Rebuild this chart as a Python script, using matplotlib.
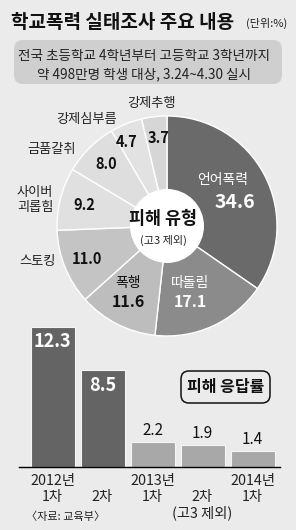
import numpy as np
import matplotlib
matplotlib.use('Agg')
import matplotlib.pyplot as plt
from matplotlib.patches import FancyBboxPatch, Circle

plt.rcParams['font.family'] = ['Noto Sans CJK KR', 'DejaVu Sans']

# pie: 피해 유형
pieNames = ['언어폭력', '따돌림', '폭행', '스토킹', '사이버\n괴롭힘', '금품갈취', '강제심부름', '강제추행']
pieValues = [34.6, 17.1, 11.6, 11.0, 9.2, 8.0, 4.7, 3.7]
pieColors = ['#6a6a6a', '#8b8b8b', '#bdbdbd', '#c4c4c4', '#e0e0e0', '#dedede', '#e2e2e2', '#d6d6d6']

# bars: 피해 응답률
barLabels = ['2012년\n1차', '\n2차', '2013년\n1차', '\n2차\n(고3 제외)', '2014년\n1차']
barValues = [12.3, 8.5, 2.2, 1.9, 1.4]
barColors = ['#646464', '#646464', '#a8a8a8', '#a8a8a8', '#a8a8a8']

W, H = 296, 530
bg = '#ebebeb'
fig = plt.figure(figsize=(W / 100, H / 100), dpi=100, facecolor=bg)

# pixel-coordinate overlay for texts
ax0 = fig.add_axes([0, 0, 1, 1])
ax0.set_xlim(0, W)
ax0.set_ylim(H, 0)
ax0.axis('off')
ax0.set_zorder(3)

ax0.text(11, 22, '학교폭력 실태조사 주요 내용', fontsize=13.7, fontweight='bold', va='center', ha='left', color='#111')
ax0.text(287, 23, '(단위:%)', fontsize=8, va='center', ha='right', color='#222')

box = FancyBboxPatch((14, 40), 268, 44, boxstyle='round,pad=0,rounding_size=9',
                     fc='#cfcfcf', ec='none', transform=ax0.transData, zorder=0)
ax0.add_patch(box)
ax0.text(144, 56, '전국 초등학교 4학년부터 고등학교 3학년까지', fontsize=9.8, ha='center', va='center', color='#222')
ax0.text(144, 74, '약 498만명 학생 대상, 3.24~4.30 실시', fontsize=9.8, ha='center', va='center', color='#222')

# pie
cx, cy, R = 167, 226, 110
axp = fig.add_axes([(cx - R) / W, 1 - (cy + R) / H, 2 * R / W, 2 * R / H])
wedges, _ = axp.pie(pieValues, colors=pieColors, startangle=90, counterclock=False,
                    radius=1, wedgeprops=dict(edgecolor='white', linewidth=1))
axp.add_patch(Circle((0, 0), 0.33, color='white', zorder=5))
axp.set_xlim(-1, 1)
axp.set_ylim(-1, 1)
axp.axis('off')

ax0.text(cx - 4, 219, '피해 유형', fontsize=12.5, fontweight='bold', ha='center', va='center', color='#111')
ax0.text(cx - 4, 240, '(고3 제외)', fontsize=8, ha='center', va='center', color='#222')

def pos(w, r, da=0):
    a = np.deg2rad((w.theta1 + w.theta2) / 2 + da)
    return cx + r * R * np.cos(a), cy - r * R * np.sin(a)

# values inside the small wedges (radius, angle nudge)
tweak = {3: (0.79, 0), 4: (0.78, 0), 5: (0.79, 0), 6: (0.85, 4), 7: (0.8, -1)}
for i, (r, da) in tweak.items():
    x, y = pos(wedges[i], r, da)
    ax0.text(x, y, '%.1f' % pieValues[i], fontsize=10.5, fontweight='bold', ha='center', va='center', color='#111')

# two-line labels inside the big wedges
inner = {0: (223, 180, 235, 202, 'white'), 1: (190, 283, 190, 302, 'white'), 2: (128, 283, 128, 302, '#111')}
for i, (nx, ny, vx, vy, c) in inner.items():
    ax0.text(nx, ny, pieNames[i], fontsize=10, ha='center', va='center', color=c)
    ax0.text(vx, vy, '%.1f' % pieValues[i], fontsize=14 if i == 0 else 11.5, fontweight='bold',
             ha='center', va='center', color=c)

outer = {7: (152, 103), 6: (87, 120), 5: (52, 150), 4: (35, 200), 3: (37, 262)}
for i, (x, y) in outer.items():
    ax0.text(x, y, pieNames[i], fontsize=9.5, ha='center', va='center', color='#222', linespacing=1.15)

# bars
base, top, ppu = 467, 322, 11.4
x0, step = 52.5, 50
axb = fig.add_axes([19 / W, 1 - base / H, (280 - 19) / W, (base - top) / H])
axb.set_facecolor('none')
xs = np.arange(len(barValues))
axb.bar(xs, barValues, width=0.88, color=barColors, edgecolor='#f4f4f4', linewidth=0.8)
axb.set_xlim((19 - x0) / step, (280 - x0) / step)
axb.set_ylim(0, (base - top) / ppu)
for s in ['top', 'right', 'left']:
    axb.spines[s].set_visible(False)
axb.spines['bottom'].set_linewidth(1)
axb.set_yticks([])
axb.set_xticks(xs)
axb.set_xticklabels(barLabels, fontsize=10.3, color='#222', linespacing=1.15, va='top')
axb.tick_params(axis='x', length=0, pad=5)

for i, v in enumerate(barValues):
    if v > 5:
        axb.text(i, v - 0.5, '%.1f' % v, fontsize=13, fontweight='bold', ha='center', va='top', color='white')
    else:
        axb.text(i, v + 0.25, '%.1f' % v, fontsize=11, fontweight='medium', ha='center', va='bottom', color='#111')

box2 = FancyBboxPatch((181, 371), 89, 32, boxstyle='round,pad=0,rounding_size=8',
                      fc=bg, ec='#111', lw=1.1, transform=ax0.transData)
ax0.add_patch(box2)
ax0.text(225.5, 387, '피해 응답률', fontsize=11.5, fontweight='bold', ha='center', va='center', color='#111')

ax0.text(26, 517, '〈자료: 교육부〉', fontsize=8, ha='left', va='center', color='#222')

fig.savefig('out.png', dpi=100, facecolor=bg)
